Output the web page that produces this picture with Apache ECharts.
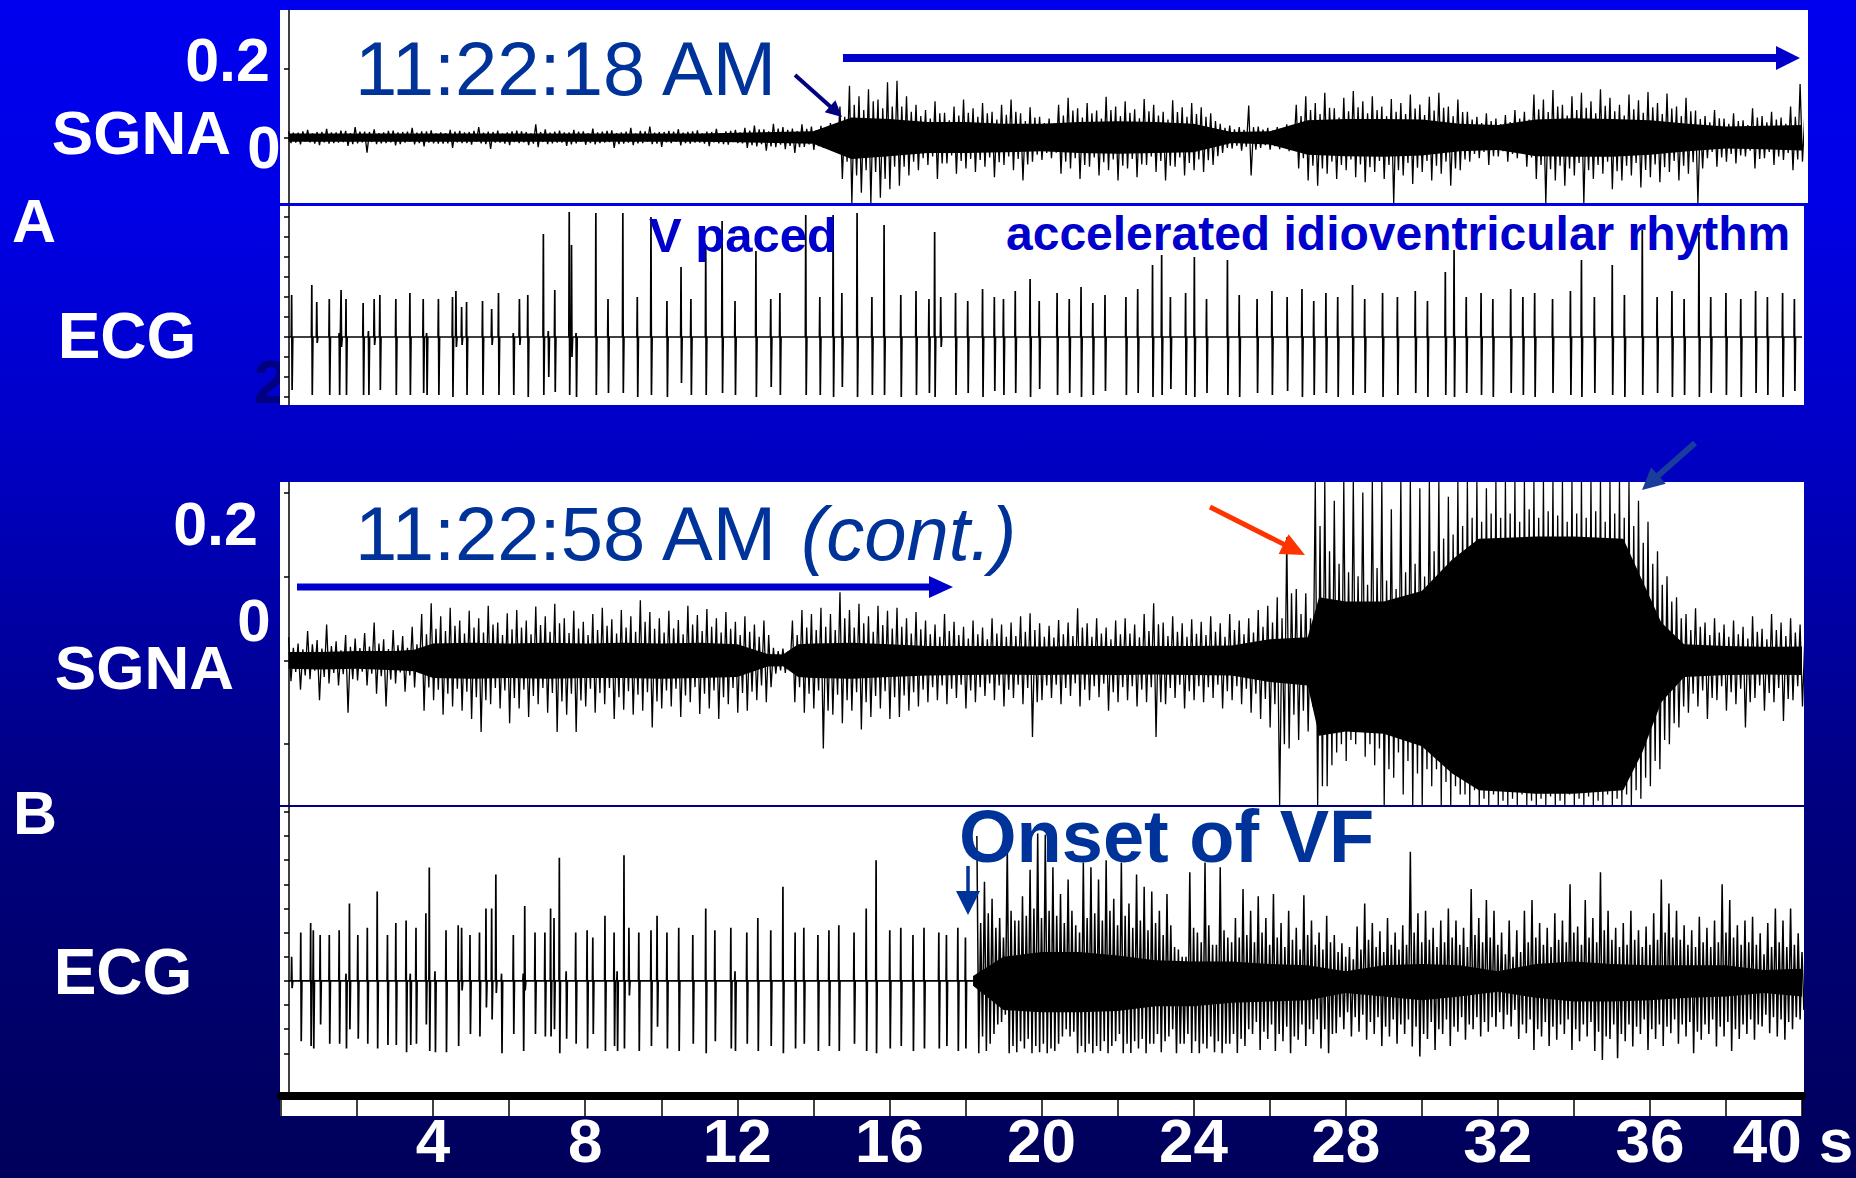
<!DOCTYPE html>
<html>
<head>
<meta charset="utf-8">
<title>SGNA and ECG before ventricular fibrillation</title>
<script src="https://cdn.jsdelivr.net/npm/echarts@6/dist/echarts.min.js"></script>
<style>
  html, body { margin: 0; padding: 0; background: #0000c8; }
  #chart { width: 1856px; height: 1178px; }
</style>
</head>
<body>
<div id="chart"></div>
<script>
// ---------- recorded values ----------
// Time in seconds. SGNA in microvolts, ECG in millivolts.

// SGNA envelopes, one bin every 0.25 s from 0.2 s:
// largest upward / downward excursion, then the smaller in-between excursions
const sgnaStart = 0.2, sgnaStep = 0.25;
const sgnaAHi = [
  18,14,22,16,25,15,19,30, 17,24,15,20,16,28,18,21, 15,22,19,16,30,17,20,15, 20,16,38,24,17,15,22,18,
  26,17,21,15,28,19,32,16, 19,24,16,21,17,25,18,22, 28,35,24,40,30,26,38,32, 34,42,90,150,120,140,110,160,
  165,120,95,80,105,72,90,110, 85,100,75,95,110,70,88,60, 55,95,115,85,100,78,118,90, 105,82,112,95,75,108,88,100,
  88,70,40,35,30,93,32,28, 30,38,95,120,100,130,85,115, 135,105,120,90,112,100,125,96, 118,130,90,110,75,60,70,55,
  65,80,75,125,110,138,95,120, 130,105,140,115,95,125,108,132, 100,128,90,115,78,62,80,55, 70,50,85,62,75,58,90,155
];
const sgnaALo = [
  -16,-20,-14,-22,-18,-15,-24,-17, -44,-19,-16,-23,-15,-20,-26,-17, -18,-30,-16,-21,-17,-33,-15,-22, -16,-22,-28,-19,-15,-24,-17,-21,
  -20,-15,-30,-18,-22,-16,-19,-27, -16,-23,-18,-15,-25,-17,-21,-16, -30,-26,-38,-28,-34,-45,-27,-36, -30,-38,-120,-190,-160,-190,-175,-150,
  -140,-110,-95,-80,-120,-75,-105,-90, -100,-85,-115,-80,-95,-125,-70,-65, -60,-105,-90,-120,-85,-110,-95,-125, -90,-115,-80,-100,-125,-85,-110,-95,
  -100,-80,-45,-32,-38,-110,-30,-35, -34,-40,-90,-125,-140,-105,-120,-95, -115,-130,-100,-120,-190,-110,-135,-100, -125,-105,-140,-95,-70,-60,-80,-55,
  -70,-60,-85,-120,-190,-125,-140,-110, -190,-120,-105,-150,-125,-110,-145,-115, -130,-100,-125,-105,-190,-60,-85,-70, -75,-55,-90,-60,-80,-65,-95,-70
];
const sgnaAMidHi = [
  14,18,12,16,15,20,13,17, 16,13,19,15,17,14,18,12, 13,17,15,19,14,16,12,18, 18,12,16,14,20,15,17,13,
  15,19,13,17,12,18,14,16, 17,14,18,12,16,13,19,15, 20,24,18,26,22,19,25,21, 24,28,60,95,80,105,85,90,
  90,75,62,55,70,50,64,72, 60,70,52,66,75,48,58,42, 40,64,78,58,70,55,80,62, 72,56,76,64,52,74,60,68,
  60,48,28,24,22,30,23,20, 22,27,62,80,68,86,58,76, 88,70,80,62,75,68,84,65, 78,86,62,74,52,42,48,38,
  45,55,52,82,74,90,64,80, 86,70,92,76,64,82,72,88, 68,84,62,76,54,44,56,40, 48,36,58,44,52,40,60,70
];
const sgnaAMidLo = [
  -15,-12,-18,-14,-16,-13,-19,-14, -13,-17,-14,-19,-12,-16,-15,-18, -17,-14,-16,-12,-19,-15,-18,-13, -14,-18,-13,-17,-15,-20,-12,-16,
  -16,-13,-19,-15,-17,-12,-18,-14, -12,-16,-15,-18,-14,-19,-13,-17, -22,-19,-26,-21,-24,-28,-20,-25, -22,-30,-70,-110,-95,-100,-120,-85,
  -85,-70,-60,-55,-75,-52,-68,-62, -65,-58,-72,-55,-62,-78,-50,-45, -44,-70,-60,-80,-58,-72,-64,-82, -62,-78,-55,-68,-82,-58,-74,-64,
  -66,-54,-30,-24,-27,-35,-22,-25, -24,-28,-60,-82,-90,-70,-80,-64, -78,-86,-68,-80,-95,-74,-88,-68, -82,-70,-90,-64,-48,-42,-54,-40,
  -48,-42,-58,-80,-92,-82,-90,-74, -95,-80,-70,-98,-82,-74,-94,-78, -86,-68,-82,-72,-90,-42,-58,-48, -52,-38,-62,-42,-55,-45,-64,-50
];
const sgnaBHi = [
  55,40,70,48,85,45,60,52, 65,90,50,72,58,80,110,136, 105,125,95,118,100,130,90,112, 120,95,128,105,135,100,118,92,
  110,125,98,120,105,143,115,100, 118,96,130,108,122,100,115,92, 105,85,95,30,28,95,120,110, 125,110,162,120,135,105,130,118,
  125,100,115,95,85,110,92,80, 95,78,100,85,90,105,112,88, 82,96,90,124,88,100,78,95, 100,85,110,136,90,105,88,98,
  92,105,88,110,95,100,120,130, 150,293,170,160,425,425,380,425, 425,400,425,425,360,425,425,410, 425,425,390,425,425,425,410,425,
  425,425,425,425,425,425,425,425, 425,425,425,425,425,425,380,330, 260,200,150,110,124,90,100,85, 95,80,105,75,110,90,100,85
];
const sgnaBLo = [
  -50,-70,-45,-95,-55,-60,-125,-48, -60,-80,-110,-55,-75,-65,-120,-95, -130,-110,-120,-140,-171,-105,-115,-150, -115,-135,-105,-125,-171,-130,-171,-110,
  -125,-105,-140,-118,-130,-120,-160,-115, -110,-135,-100,-128,-115,-140,-105,-125, -120,-95,-100,-32,-30,-100,-125,-115, -210,-130,-150,-120,-165,-135,-115,-140,
  -135,-120,-110,-100,-95,-105,-90,-115, -100,-85,-95,-110,-90,-105,-183,-95, -90,-105,-85,-110,-95,-88,-120,-100, -95,-110,-100,-183,-105,-90,-115,-95,
  -100,-90,-115,-95,-105,-125,-140,-160, -345,-210,-190,-170,-345,-300,-220,-240, -200,-230,-250,-345,-280,-320,-345,-345, -300,-345,-345,-320,-345,-345,-345,-345,
  -345,-345,-345,-345,-345,-345,-345,-345, -345,-345,-345,-345,-345,-345,-330,-300, -260,-200,-160,-125,-110,-140,-95,-120, -105,-160,-90,-120,-100,-145,-95,-110
];
const sgnaBMidHi = [
  30,26,38,28,34,24,32,29, 33,40,27,36,30,38,62,75, 70,82,64,78,66,85,60,74, 78,62,84,68,88,65,76,60,
  72,82,64,78,68,92,75,66, 76,62,85,70,80,66,75,60, 68,56,60,22,20,60,78,72, 80,72,100,78,88,68,84,76,
  80,64,74,62,56,70,60,52, 62,50,64,56,58,68,72,56, 54,62,58,78,56,64,50,62, 64,55,70,86,58,68,56,63,
  60,68,56,72,62,66,80,90, 100,160,110,100,320,260,230,210, 200,180,220,190,170,210,230,200, 260,290,300,320,340,330,350,340,
  350,330,360,340,355,345,330,350, 340,355,330,350,340,320,280,230, 180,140,100,72,80,60,66,56, 62,52,68,50,72,58,66,56
];
const sgnaBMidLo = [
  -28,-36,-25,-40,-30,-33,-45,-27, -32,-38,-46,-29,-36,-31,-65,-70, -80,-68,-75,-88,-95,-66,-72,-90, -70,-85,-66,-78,-98,-80,-96,-68,
  -78,-66,-88,-74,-82,-76,-98,-72, -68,-84,-64,-80,-72,-88,-66,-78, -75,-60,-64,-24,-22,-64,-80,-72, -120,-82,-95,-76,-100,-85,-74,-88,
  -84,-76,-70,-64,-60,-68,-58,-72, -64,-55,-60,-70,-58,-66,-100,-60, -58,-66,-55,-70,-62,-56,-76,-64, -62,-70,-64,-100,-66,-58,-74,-62,
  -64,-58,-74,-62,-68,-80,-92,-105, -200,-130,-120,-110,-300,-250,-200,-190, -170,-200,-210,-260,-220,-240,-270,-260, -260,-290,-300,-320,-310,-330,-320,-335,
  -330,-320,-335,-330,-325,-335,-320,-330, -325,-335,-320,-330,-320,-310,-280,-240, -190,-150,-110,-80,-72,-90,-62,-76, -68,-100,-60,-78,-66,-92,-62,-72
];

// solid centre of the SGNA bands
const sgnaACoreTimes = [0.2,1,2,3,4,5,6,7,8,9,10,11,12,13,14,15,16,17,18,19,20,21,22,23,24,25,26,27,28,29,30,31,32,33,34,35,36,37,38,39,40];
const sgnaACoreHi = [12,12,12,12,12,12,12,12,12,12, 12,12,14,16,18,58,54,45,45,40, 40,45,47,45,40,16,18,50,54,54, 52,40,36,52,56,54,50,40,32,34, 36];
const sgnaACoreLo = [-12,-12,-12,-12,-12,-12,-12,-12,-12,-12, -12,-12,-14,-16,-18,-62,-54,-45,-45,-43, -40,-45,-47,-45,-43,-16,-20,-50,-54,-56, -52,-40,-36,-54,-56,-56,-50,-40,-32,-34, -38];
const sgnaBCoreTimes = [0.2,1,2,3,3.5,4,5,6,7,8, 9,10,11,12,12.8,13.2,13.6,14,15,16, 17,18,19,20,21,22,23,24,25,26, 27,27.3,28,29,30,30.8,31.5,33,34,35.3, 35.8,36.3,36.9,38,39,40];
const sgnaBCoreHi = [20,20,22,22,25,40,42,40,42,40, 42,40,42,38,15,14,38,40,42,38, 34,34,34,33,34,34,34,34,35,50, 55,150,140,140,165,240,290,295,295,290, 190,90,38,34,32,33];
const sgnaBCoreLo = [-20,-22,-20,-24,-26,-42,-44,-42,-44,-42, -42,-44,-42,-40,-15,-14,-40,-42,-44,-40, -36,-35,-34,-35,-34,-35,-34,-35,-36,-52, -60,-180,-170,-175,-205,-270,-310,-318,-318,-310, -220,-100,-40,-35,-34,-35];

// ECG deflections: time of each complex, peak and trough
const ecgATimes = [
  0.28,0.81,0.94,1.27,1.53,1.58,1.71,2.16,2.30,2.45, 2.60,3.02,3.39,3.74,3.83,4.14,4.51,4.60,4.75,4.88,
  5.30,5.54,5.72,6.11,6.27,6.49,6.90,7.03,7.20,7.58, 7.64,7.76,8.28,8.60,8.99,9.37,9.73,10.15,10.52,10.78,
  11.17,11.60,11.94,12.49,12.88,13.12,13.80,14.17,14.52,14.75, 15.15,15.54,15.86,16.30,16.70,17.04,17.19,17.35,17.74,18.06,
  18.45,18.76,19.00,19.31,19.70,19.94,20.41,20.73,21.04,21.35, 21.67,22.22,22.53,22.92,23.16,23.39,23.79,24.02,24.34,24.89,
  25.20,25.67,26.06,26.46,26.85,27.16,27.48,27.79,28.18,28.50, 28.97,29.36,29.83,30.15,30.62,30.85,31.17,31.56,31.87,32.34,
  32.66,32.97,33.44,33.91,34.20,34.54,35.01,35.33,35.80,36.19, 36.58,36.90,37.29,37.60,38.00,38.39,38.78,39.09,39.49,39.80
];
const ecgAHi = [
  2.1,2.6,1.75,1.9,0.2,2.35,1.9,1.7,0.3,1.9, 2.1,1.9,2.2,1.9,0.2,1.9,2.0,2.3,1.5,1.75,
  1.8,1.4,2.2,0.2,1.9,2.1,5.15,0.3,2.35,6.25, 4.6,0.2,6.2,1.9,6.2,2.0,6.0,1.8,3.5,1.9,
  4.6,5.8,1.8,4.3,1.9,2.2,6.1,2.0,6.1,2.2, 6.2,2.0,5.6,2.1,2.3,1.9,5.25,2.0,2.2,1.8,
  2.4,2.0,1.9,2.3,2.9,1.8,2.2,1.9,2.5,1.7, 2.1,2.0,2.4,3.6,4.1,2.0,2.2,4.0,1.9,3.85,
  2.1,1.9,2.3,2.0,2.4,1.8,2.2,2.0,2.6,1.9, 2.2,2.0,2.3,1.8,3.25,4.35,2.0,2.2,1.9,2.4,
  2.0,2.2,1.9,2.3,3.85,2.0,3.6,2.1,5.35,2.0, 2.3,1.9,5.25,2.0,2.2,1.9,2.3,2.0,2.2,1.9
];
const ecgALo = [
  -2.65,-2.9,-0.3,-2.9,-2.9,-0.5,-2.9,-2.9,-2.9,-0.4, -2.65,-2.9,-2.9,-2.8,-2.9,-2.9,-3.0,-0.5,-0.4,-2.9,
  -2.9,-0.4,-2.9,-2.9,-0.4,-3.0,-2.9,-2.0,-2.75,-2.9, -1.0,-3.0,-2.9,-2.8,-2.8,-3.0,-2.9,-3.0,-2.3,-2.9,
  -2.9,-2.8,-2.9,-3.0,-2.5,-2.9,-2.9,-2.9,-3.0,-2.5, -3.0,-2.9,-2.9,-3.0,-2.9,-2.8,-3.0,-0.5,-2.9,-2.8,
  -3.0,-2.7,-2.9,-2.8,-3.0,-2.6,-2.9,-2.8,-3.0,-2.9, -2.7,-2.9,-2.8,-3.0,-2.9,-2.6,-2.9,-3.0,-2.8,-2.9,
  -3.0,-2.8,-2.9,-2.7,-3.0,-2.9,-2.8,-3.0,-2.9,-2.8, -3.0,-2.9,-2.8,-3.0,-2.9,-3.0,-2.8,-2.9,-3.0,-2.8,
  -2.9,-3.0,-2.8,-2.9,-3.0,-2.8,-2.9,-3.0,-2.9,-2.8, -3.0,-2.9,-3.0,-2.8,-2.9,-3.0,-2.8,-2.9,-3.0,-2.7
];
const ecgBTimes = [
  0.28,0.52,0.78,0.85,1.03,1.27,1.53,1.71,1.80,2.02, 2.27,2.53,2.80,3.02,3.29,3.40,3.55,3.81,3.90,4.05,
  4.34,4.66,4.75,4.97,5.22,5.39,5.54,5.65,5.80,6.11, 6.37,6.41,6.68,6.94,7.09,7.18,7.32,7.50,7.75,8.05,
  8.20,8.52,8.76,8.84,9.02,9.15,9.41,9.73,9.89,10.15, 10.46,10.83,11.17,11.41,11.83,11.94,12.25,12.54,12.88,13.20,
  13.52,13.75,14.12,14.41,14.67,15.07,15.39,15.65,16.01,16.30, 16.62,16.91,17.30,17.50,17.80,18.00
];
const ecgBHi = [
  1.0,2.0,2.4,2.1,1.9,1.9,2.1,0.3,3.2,1.9, 2.2,3.7,1.9,2.4,2.5,0.3,2.2,2.8,4.7,0.4,
  2.1,2.3,2.2,1.9,2.0,3.0,3.0,4.4,0.3,1.9, 0.3,3.1,2.0,2.0,3.0,2.6,5.1,0.4,2.0,2.1,
  1.8,2.7,2.0,0.4,5.2,2.2,2.0,2.1,2.7,2.0, 2.2,1.9,3.0,2.1,2.2,0.4,2.0,2.6,2.1,3.9,
  2.0,2.2,1.9,2.1,2.3,2.0,3.0,5.0,2.1,2.2, 1.9,2.2,2.0,1.9,2.2,1.8
];
const ecgBLo = [
  -0.3,-2.5,-2.7,-2.8,-1.8,-2.6,-2.6,-2.8,-2.0,-2.4, -2.6,-2.8,-2.65,-2.65,-2.95,-2.65,-2.6,-1.8,-2.9,-2.95,
  -2.95,-2.7,-0.4,-2.2,-2.3,-1.1,-1.6,-0.5,-3.0,-2.2, -2.9,-0.4,-2.2,-2.3,-2.3,-2.0,-3.0,-2.4,-2.6,-2.8,
  -2.2,-2.9,-2.7,-2.9,-2.8,-0.6,-2.9,-2.7,-1.9,-2.8, -2.9,-2.6,-3.0,-2.5,-2.8,-2.9,-2.6,-2.9,-2.7,-3.0,
  -2.8,-2.6,-2.9,-2.7,-2.9,-2.6,-2.9,-3.0,-2.8,-2.7, -2.9,-2.8,-2.8,-2.7,-2.9,-2.8
];

// ventricular fibrillation: one bin every 0.2 s from 18.3 s
const vfStart = 18.3, vfStep = 0.2;
const vfHi = [
  6.0,4.1,3.4,2.6,5.6,2.5,3.5,4.6,6.1,6.05, 4.7,3.6,4.2,2.3,4.9,4.7,4.2,5.0,3.4,4.9,
  3.2,4.4,3.9,3.7,2.9,3.6,1.4,1.0,4.5,2.0, 4.9,1.5,4.7,1.8,2.6,
  3.8,2.9,3.5,2.6,3.6,2.4,2.9,2.2,3.55,2.5, 2.0,2.7,1.9,1.56,1.4,2.25,3.2,2.4,2.05,2.6,
  2.0,2.3,5.35,2.8,2.9,2.2,2.5,3.0,2.5,2.2, 3.8,2.6,3.35,2.9,2.0,2.5,2.1,2.9,3.35,2.4,
  2.2,2.8,2.5,4.0,2.25,3.35,2.6,4.5,2.9,2.2, 2.4,2.9,2.1,2.25,2.8,4.2,3.2,2.9,2.3,2.1,
  2.66,2.2,2.5,4.0,3.35,2.3,2.5,2.66,1.97,2.4, 3.0,2.5,3.0,1.97
];
const vfLo = [
  -3.0,-2.9,-2.2,-1.7,-3.0,-2.95,-2.8,-3.0,-2.95,-3.0, -2.9,-2.3,-2.3,-3.0,-2.95,-3.0,-2.9,-3.0,-2.5,-3.0,
  -2.98,-2.8,-3.0,-2.6,-2.95,-2.3,-3.0,-2.6,-2.98,-3.0, -2.8,-2.95,-3.0,-2.6,-2.98,
  -2.7,-2.2,-2.86,-2.4,-2.9,-2.5,-3.0,-2.44,-2.7,-2.2, -2.8,-3.0,-2.17,-2.0,-2.3,-2.1,-2.44,-2.2,-2.7,-2.3,
  -2.6,-2.2,-2.72,-3.13,-2.4,-2.86,-2.2,-2.7,-2.1,-2.44, -2.0,-2.3,-2.1,-1.9,-2.0,-1.89,-2.4,-2.17,-2.86,-2.3,
  -2.7,-2.44,-2.2,-2.86,-2.5,-2.3,-2.9,-3.27,-2.4,-3.2, -2.5,-2.72,-2.2,-2.86,-2.4,-2.7,-2.17,-2.6,-2.3,-3.0,
  -2.44,-2.2,-2.72,-2.3,-2.9,-2.4,-2.2,-2.44,-1.89,-2.17, -2.3,-2.44,-2.0,-1.6
];
const vfMidHi = [
  2.4,2.8,2.2,1.8,2.9,2.5,2.7,3.0,2.6,2.9, 2.7,2.4,2.9,2.0,2.6,2.8,2.5,2.9,2.3,2.7,
  2.2,2.5,2.1,2.4,1.9,2.3,1.3,1.0,2.2,1.6, 2.3,1.5,2.1,1.6,1.8,
  1.9,1.6,2.0,1.5,1.8,1.4,1.7,1.3,1.9,1.5, 1.3,1.6,1.2,1.0,0.9,1.3,1.7,1.4,1.2,1.5,
  1.3,1.5,2.0,1.6,1.7,1.4,1.6,1.8,1.5,1.4, 1.9,1.6,1.8,1.5,1.1,1.0,1.2,1.6,1.8,1.5,
  1.4,1.7,1.6,2.0,1.5,1.8,1.6,2.1,1.7,1.4, 1.5,1.7,1.4,1.5,1.7,2.0,1.8,1.7,1.5,1.4,
  1.6,1.4,1.6,2.0,1.8,1.5,1.6,1.5,1.1,1.4, 1.6,1.4,1.5,1.2
];
const vfMidLo = [
  -2.3,-2.6,-1.8,-1.4,-2.7,-2.5,-2.4,-2.7,-2.6,-2.8, -2.6,-2.0,-2.1,-2.7,-2.6,-2.7,-2.5,-2.7,-2.2,-2.6,
  -2.5,-2.4,-2.6,-2.2,-2.5,-2.0,-2.6,-2.2,-2.5,-2.6, -2.3,-2.5,-2.6,-2.2,-2.4,
  -2.0,-1.7,-2.1,-1.8,-2.2,-1.9,-2.3,-1.8,-2.0,-1.6, -2.0,-2.2,-1.5,-1.3,-1.5,-1.4,-1.7,-1.5,-1.9,-1.6,
  -1.8,-1.6,-1.9,-2.2,-1.7,-2.0,-1.6,-1.9,-1.5,-1.8, -1.5,-1.7,-1.5,-1.3,-1.4,-1.2,-1.8,-1.6,-2.0,-1.7,
  -1.9,-1.8,-1.6,-2.0,-1.8,-1.7,-2.1,-2.3,-1.8,-2.2, -1.8,-1.9,-1.6,-2.0,-1.8,-1.9,-1.6,-1.8,-1.7,-2.1,
  -1.8,-1.6,-1.9,-1.7,-2.0,-1.8,-1.6,-1.8,-1.4,-1.5, -1.6,-1.7,-1.5,-1.2
];
const vfCoreTimes = [18.2,19,20,21,22,23,24,25,26,27,28,29,30,31,32,33,34,35,36,37,38,39,40];
const vfCoreHi = [0.2,1.0,1.2,1.2,1.05,0.85,0.8,0.8,0.7,0.65,0.4,0.65,0.7,0.65,0.4,0.7,0.8,0.7,0.65,0.65,0.65,0.45,0.5];
const vfCoreLo = [-0.2,-1.2,-1.3,-1.3,-1.25,-1.05,-1.05,-0.9,-0.85,-0.8,-0.5,-0.65,-0.8,-0.65,-0.45,-0.7,-0.85,-0.85,-0.8,-0.7,-0.65,-0.5,-0.65];

// axis ticks
const timeTickStep = 2;
const sgnaATicks = [0, 200];
const sgnaBTicks = [-200, 0, 200, 400];
const ecgATicks = [-3,-2,-1,0,1,2,3,4,5,6];
const ecgBTicks = [-3,-2,-1,0,1,2,3,4,5,6,7];

// ---------- drawing ----------
const FONT = '"Liberation Sans", Arial, Helvetica, sans-serif';

// four excursions per bin (large up, large down, smaller up, smaller down)
function noiseTrace(start, step, hi, lo, midHi, midLo) {
  const pts = [], q = step / 4;
  for (let i = 0; i < hi.length; i++) {
    const t = start + step * i;
    pts.push([t, hi[i]], [t + q, lo[i]], [t + 2 * q, midHi[i]], [t + 3 * q, midLo[i]]);
  }
  return pts;
}
// each complex: sharp rise to the peak, drop to the trough, back to baseline
function ecgPath(times, hi, lo) {
  const pts = [[0.2, 0]];
  for (let i = 0; i < times.length; i++) {
    const t = times[i];
    pts.push([t - 0.01, 0], [t, hi[i]], [t + 0.012, lo[i]], [t + 0.03, 0]);
  }
  return pts;
}
function traceSeries(idx, data, width) {
  return {
    type: 'line', xAxisIndex: idx, yAxisIndex: idx, data,
    symbol: 'none', showSymbol: false, silent: true, z: 3,
    lineStyle: { color: '#000', width: width }
  };
}
function bandSeries(idx, times, upper, lower) {
  return {
    type: 'custom', xAxisIndex: idx, yAxisIndex: idx, silent: true, z: 2,
    data: [[times[0], 0]], encode: { x: 0, y: 1 },
    renderItem(params, api) {
      const pts = [];
      for (let i = 0; i < times.length; i++) pts.push(api.coord([times[i], upper[i]]));
      for (let i = times.length - 1; i >= 0; i--) pts.push(api.coord([times[i], lower[i]]));
      return { type: 'polygon', shape: { points: pts }, style: { fill: '#000' } };
    }
  };
}

const ecgAData = ecgPath(ecgATimes, ecgAHi, ecgALo).concat([[40, 0]]);
const ecgBData = ecgPath(ecgBTimes, ecgBHi, ecgBLo).concat([[vfStart, 0]]);
const vfData = noiseTrace(vfStart, vfStep, vfHi, vfLo, vfMidHi, vfMidLo);

const grids = [
  { left: 281, top: 10, width: 1521, height: 193 },
  { left: 281, top: 206, width: 1521, height: 199 },
  { left: 281, top: 482, width: 1521, height: 323 },
  { left: 281, top: 807, width: 1521, height: 285 }
].map(g => Object.assign({ outerBoundsMode: 'none', containLabel: false }, g));

function hiddenX(i) {
  return { type: 'value', gridIndex: i, min: 0, max: 40, show: false };
}
function yAxisFor(i, min, max, ticks) {
  return {
    type: 'value', gridIndex: i, min, max, offset: -8,
    axisLine: { show: true, onZero: false, lineStyle: { color: '#000', width: 1.5 } },
    axisTick: { show: true, customValues: ticks, length: 5, lineStyle: { color: '#000', width: 1.5 } },
    axisLabel: { show: false },
    splitLine: { show: false }
  };
}

function txt(text, x, y, size, opts) {
  opts = opts || {};
  return {
    type: 'text', x, y, z: opts.z != null ? opts.z : 100, silent: true,
    style: {
      text,
      font: (opts.style || 'normal') + ' ' + (opts.weight || 'bold') + ' ' + size + 'px ' + FONT,
      fill: opts.color || '#fff',
      textAlign: opts.align || 'center',
      textVerticalAlign: 'middle'
    }
  };
}
function arrow(x1, y1, x2, y2, width, head, halfW, color) {
  const dx = x2 - x1, dy = y2 - y1, len = Math.hypot(dx, dy);
  const ux = dx / len, uy = dy / len, px = -uy, py = ux;
  const bx = x2 - ux * head, by = y2 - uy * head;
  return [
    { type: 'line', z: 100, silent: true,
      shape: { x1, y1, x2: bx + ux, y2: by + uy },
      style: { stroke: color, lineWidth: width } },
    { type: 'polygon', z: 100, silent: true,
      shape: { points: [[x2, y2], [bx + px * halfW, by + py * halfW], [bx - px * halfW, by - py * halfW]] },
      style: { fill: color } }
  ];
}

const graphics = [
  { type: 'rect', z: -100, silent: true, shape: { x: 0, y: 0, width: 1856, height: 1178 },
    style: { fill: new echarts.graphic.LinearGradient(0, 0, 0, 1, [
      { offset: 0, color: '#0000ee' },
      { offset: 0.17, color: '#0000e6' },
      { offset: 0.39, color: '#0000c3' },
      { offset: 0.68, color: '#000080' },
      { offset: 1, color: '#00005a' }
    ]) } },
  txt('2', 271, 381, 62, { color: '#000080', z: -50 }),
  { type: 'rect', z: -10, silent: true, shape: { x: 280, y: 10, width: 1528, height: 193 }, style: { fill: '#fff' } },
  { type: 'rect', z: -10, silent: true, shape: { x: 280, y: 206, width: 1524, height: 199 }, style: { fill: '#fff' } },
  { type: 'rect', z: -10, silent: true, shape: { x: 280, y: 482, width: 1524, height: 323 }, style: { fill: '#fff' } },
  { type: 'rect', z: -10, silent: true, shape: { x: 280, y: 807, width: 1524, height: 285 }, style: { fill: '#fff' } },
  { type: 'rect', z: -10, silent: true, shape: { x: 280, y: 1100, width: 1522, height: 16 }, style: { fill: '#fff' } },

  txt('A', 34, 221, 61),
  txt('B', 35, 813, 61),
  txt('SGNA', 231, 132, 62, { align: 'right' }),
  txt('0.2', 270, 60, 61, { align: 'right' }),
  txt('0', 264, 147, 60),
  txt('ECG', 127, 336, 64),
  txt('SGNA', 234, 667, 62, { align: 'right' }),
  txt('0.2', 258, 524, 61, { align: 'right' }),
  txt('0', 254, 620, 60),
  txt('ECG', 123, 972, 64),

  txt('11:22:18 AM', 355, 68, 76, { align: 'left', weight: 'normal', color: '#003399' }),
  txt('11:22:58 AM', 355, 533, 76, { align: 'left', weight: 'normal', color: '#003399' }),
  txt('(cont.)', 801, 533, 76, { align: 'left', weight: 'normal', style: 'italic', color: '#003399' }),
  txt('V paced', 649, 235, 49, { align: 'left', color: '#0000cc' }),
  txt('accelerated idioventricular rhythm', 1006, 233, 48, { align: 'left', color: '#0000cc' }),
  txt('Onset of VF', 959, 836, 74, { align: 'left', color: '#003399' })
].concat(
  arrow(843, 58, 1800, 58, 8, 24, 12, '#0000cc'),
  arrow(795, 75, 842, 117, 4, 16, 8, '#000080'),
  arrow(297, 587, 953, 587, 7, 24, 11, '#0000cc'),
  arrow(1210, 507, 1305, 555, 5, 24, 11, '#ff3300'),
  arrow(1695, 443, 1642, 490, 6, 22, 11, '#1a3c9c'),
  arrow(968, 866, 968, 915, 3.5, 24, 12, '#003399')
);

const labelFont = { color: '#fff', fontSize: 62, fontWeight: 'bold', fontFamily: FONT, lineHeight: 62 };

const chart = echarts.init(document.getElementById('chart'), null, { renderer: 'svg', width: 1856, height: 1178 });
chart.setOption({
  animation: false,
  grid: grids,
  xAxis: [
    hiddenX(0), hiddenX(1), hiddenX(2),
    {
      type: 'value', gridIndex: 3, min: 0, max: 40, interval: timeTickStep, position: 'bottom', offset: 4,
      axisLine: { show: true, onZero: false, lineStyle: { color: '#000', width: 8 } },
      axisTick: { show: true, length: 20, lineStyle: { color: '#000', width: 1.5 } },
      axisLabel: Object.assign({
        show: true, margin: 13, showMinLabel: true, showMaxLabel: true,
        formatter: v => (v === 0 || v % 4 !== 0) ? '' : (v === 40 ? '{last|40 s}' : String(v)),
        rich: { last: Object.assign({ padding: [0, 18, 0, 0] }, labelFont) }
      }, labelFont),
      splitLine: { show: false }
    }
  ],
  yAxis: [
    yAxisFor(0, -190, 370, sgnaATicks),
    yAxisFor(1, -3.4, 6.55, ecgATicks),
    yAxisFor(2, -345, 425, sgnaBTicks),
    yAxisFor(3, -4.6, 7.2, ecgBTicks)
  ],
  graphic: graphics,
  series: [
    bandSeries(0, sgnaACoreTimes, sgnaACoreHi, sgnaACoreLo),
    traceSeries(0, noiseTrace(sgnaStart, sgnaStep, sgnaAHi, sgnaALo, sgnaAMidHi, sgnaAMidLo), 1.3),
    traceSeries(1, ecgAData, 1.7),
    bandSeries(2, sgnaBCoreTimes, sgnaBCoreHi, sgnaBCoreLo),
    traceSeries(2, noiseTrace(sgnaStart, sgnaStep, sgnaBHi, sgnaBLo, sgnaBMidHi, sgnaBMidLo), 1.3),
    bandSeries(3, vfCoreTimes, vfCoreHi, vfCoreLo),
    traceSeries(3, ecgBData, 1.7),
    traceSeries(3, vfData, 1.5)
  ]
});
</script>
</body>
</html>
